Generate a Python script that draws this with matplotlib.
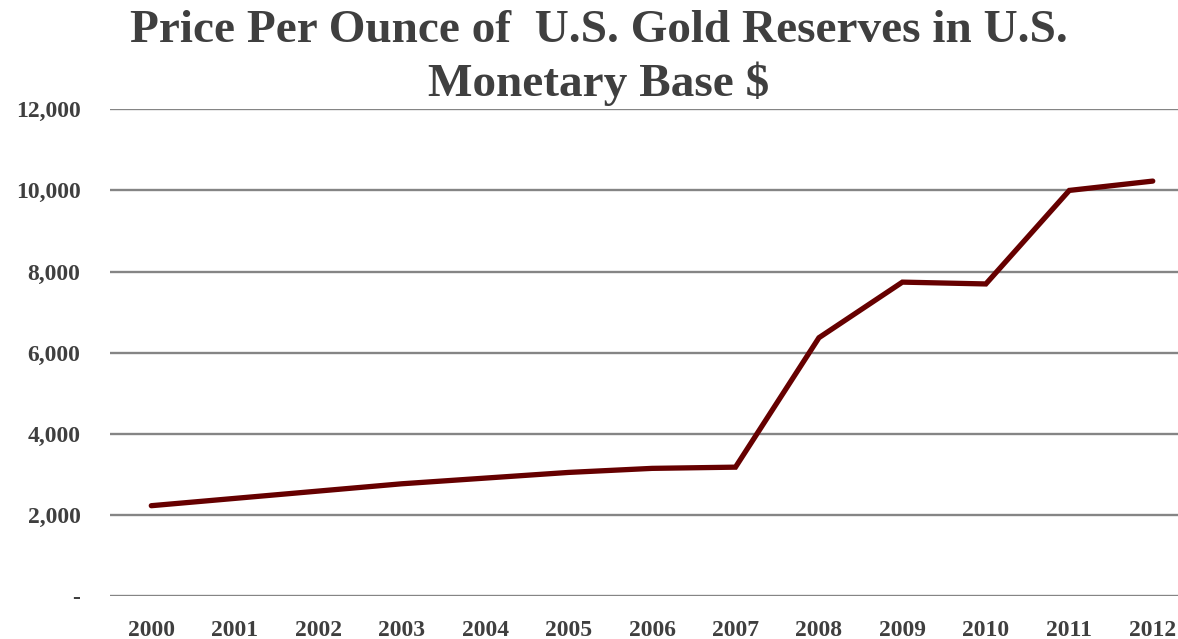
import matplotlib.pyplot as plt
from matplotlib.ticker import FuncFormatter

years = ["2000", "2001", "2002", "2003", "2004", "2005", "2006",
         "2007", "2008", "2009", "2010", "2011", "2012"]
price = [2230, 2410, 2590, 2770, 2910, 3050, 3150,
         3180, 6370, 7740, 7695, 10000, 10230]
yticks = [0, 2000, 4000, 6000, 8000, 10000, 12000]

plt.rcParams['font.family'] = ['Liberation Serif', 'DejaVu Serif']

fig = plt.figure(figsize=(11.78, 6.39), dpi=100)
ax = fig.add_axes([0.093, 0.067, 0.921, 0.762])

x = list(range(len(years)))
ax.plot(x, price, color='#660000', linewidth=3.8, solid_capstyle='round',
        solid_joinstyle='miter', zorder=3)

ax.set_xlim(-0.5, len(years) - 0.5)
ax.set_ylim(0, 12000)
ax.set_yticks(yticks)
ax.yaxis.set_major_formatter(FuncFormatter(lambda v, p: '-' if v == 0 else f"{int(v):,}"))
ax.set_xticks(x)
ax.set_xticklabels(years)

ax.grid(axis='y', color='#858585', linewidth=1.7)
ax.set_axisbelow(True)
for s in ax.spines.values():
    s.set_visible(False)
ax.tick_params(length=0, labelsize=17, colors='#3f3f3f')
ax.tick_params(axis='x', pad=17)
ax.tick_params(axis='y', pad=21)
for lbl in ax.get_xticklabels() + ax.get_yticklabels():
    lbl.set_fontweight('bold')

fig.text(0.508, 0.984, "Price Per Ounce of  U.S. Gold Reserves in U.S.\nMonetary Base $",
         ha='center', va='top', fontsize=34, fontweight='bold', color='#3f3f3f',
         linespacing=1.26)

fig.savefig("out.png", dpi=100)
